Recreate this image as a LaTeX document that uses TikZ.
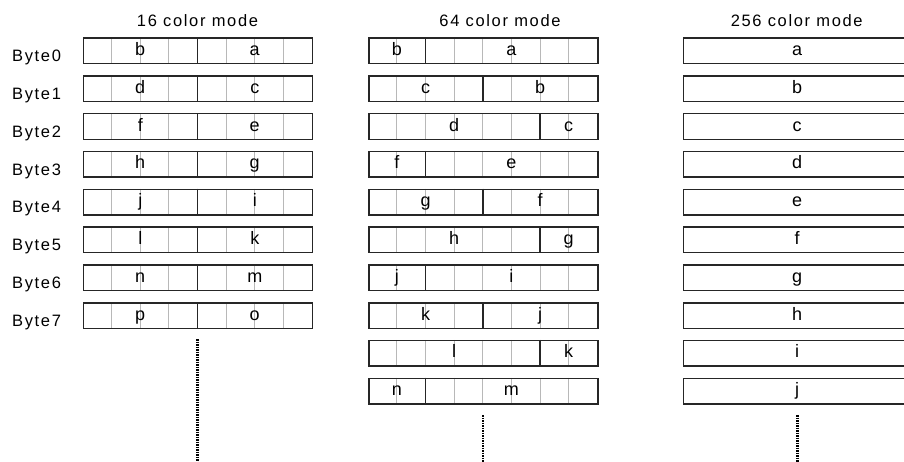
\documentclass[tikz,border=0pt]{standalone}
\usepackage{fontspec}
\setmainfont{Liberation Sans}
\newfontfamily\spacedfont[LetterSpace=10]{Liberation Sans}
\begin{document}
\begin{tikzpicture}[x=1pt,y=-1pt,
  rowbox/.style={draw=black!85,line width=1.4pt,minimum width=229pt,minimum height=25.5pt,inner sep=0pt,anchor=north west},
  cellline/.style={draw=black!28,line width=1.1pt},
  divline/.style={draw=black!85,line width=1.4pt},
  titletext/.style={font=\spacedfont\fontsize{16.5}{16.5}\selectfont,anchor=base,inner sep=0pt},
  bytetext/.style={font=\spacedfont\fontsize{16.5}{16.5}\selectfont,anchor=base west,inner sep=0pt},
  celltext/.style={font=\fontsize{18}{18}\selectfont,anchor=base,inner sep=0pt,text=black},
  ellipsis/.style={draw=black,line width=2.6pt,dash pattern=on 1.5pt off 1pt}
]
\useasboundingbox (0,0) rectangle (904,462);
\clip (0,0) rectangle (904,462);
\def\cw{28.625}
% titles
\node[titletext] (t16) at (197.5,26.5) {16 color mode};
\node[titletext] (t64) at (500,26.5) {64 color mode};
\node[titletext] (t256) at (796.7,26.5) {256 color mode};
% 16 color mode
\foreach \i/\l/\r in {0/b/a,1/d/c,2/f/e,3/h/g,4/j/i,5/l/k,6/n/m,7/p/o}{
  \pgfmathsetmacro{\yt}{37.5+37.8*\i}
  \foreach \k in {1,2,3,5,6,7}{
    \draw[cellline] (83+\k*\cw,\yt) -- (83+\k*\cw,\yt+25.5);
  }
  \node[rowbox] (a\i) at (83,\yt) {};
  \draw[divline] (83+4*\cw,\yt) -- (83+4*\cw,\yt+25.5);
  \node[celltext] (a\i l) at (83+2*\cw,\yt+18) {\l};
  \node[celltext] (a\i r) at (83+6*\cw,\yt+18) {\r};
  \node[bytetext] (byte\i) at (12,\yt+24.2) {Byte\i};
}
% 64 color mode
\foreach \i/\d/\l/\p/\r/\q in {0/2/b/1/a/5,1/4/c/2/b/6,2/6/d/3/c/7,3/2/f/1/e/5,4/4/g/2/f/6,5/6/h/3/g/7,6/2/j/1/i/5,7/4/k/2/j/6,8/6/l/3/k/7,9/2/n/1/m/5}{
  \pgfmathsetmacro{\yt}{37.5+37.8*\i}
  \foreach \k in {1,...,7}{
    \draw[cellline] (368.3+\k*\cw,\yt) -- (368.3+\k*\cw,\yt+25.5);
  }
  \node[rowbox] (b\i) at (368.3,\yt) {};
  \draw[divline] (368.3+\d*\cw,\yt) -- (368.3+\d*\cw,\yt+25.5);
  \node[celltext] (b\i l) at (368.3+\p*\cw,\yt+18) {\l};
  \node[celltext] (b\i r) at (368.3+\q*\cw,\yt+18) {\r};
}
% 256 color mode
\foreach \i/\l in {0/a,1/b,2/c,3/d,4/e,5/f,6/g,7/h,8/i,9/j}{
  \pgfmathsetmacro{\yt}{37.5+37.8*\i}
  \node[rowbox] (c\i) at (682.7,\yt) {};
  \node[celltext] (c\i t) at (682.7+4*\cw,\yt+18) {\l};
}
% continuation dots
\coordinate (e16a) at (197.7,339);
\coordinate (e16b) at (197.7,462);
\coordinate (e64a) at (483,415);
\coordinate (e64b) at (483,462);
\coordinate (e256a) at (797.7,415);
\coordinate (e256b) at (797.7,462);
\draw[ellipsis] (e16a) -- (e16b);
\draw[ellipsis] (e64a) -- (e64b);
\draw[ellipsis] (e256a) -- (e256b);
\end{tikzpicture}
\end{document}
